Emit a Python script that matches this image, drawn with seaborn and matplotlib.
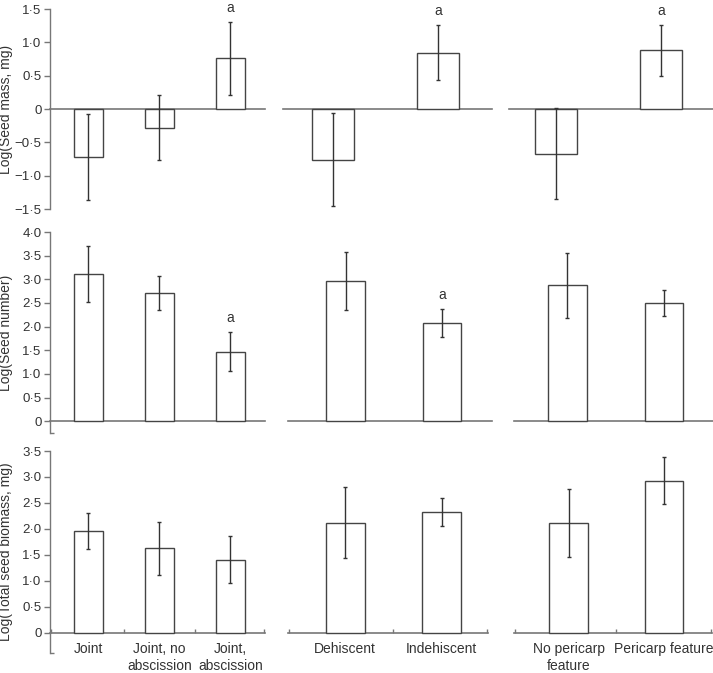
import numpy as np
import pandas as pd
import matplotlib
matplotlib.use("Agg")
import matplotlib.pyplot as plt
import seaborn as sns
from matplotlib.ticker import FuncFormatter, FixedLocator

# ---- data ----
groups = ["joint", "dehiscence", "pericarp"]
group_cats = [
    ["Joint", "Joint, no\nabscission", "Joint,\nabscission"],
    ["Dehiscent", "Indehiscent"],
    ["No pericarp\nfeature", "Pericarp feature"],
]

mass_mean = [-0.72, -0.28, 0.76, -0.76, 0.845, -0.67, 0.88]
mass_err = [0.65, 0.49, 0.545, 0.70, 0.41, 0.685, 0.385]
mass_sig = ["", "", "a", "", "a", "", "a"]

number_mean = [3.12, 2.71, 1.47, 2.97, 2.08, 2.87, 2.50]
number_err = [0.59, 0.35, 0.41, 0.615, 0.295, 0.69, 0.275]
number_sig = ["", "", "a", "", "a", "", ""]

biomass_mean = [1.96, 1.63, 1.41, 2.12, 2.32, 2.11, 2.93]
biomass_err = [0.35, 0.51, 0.46, 0.69, 0.27, 0.66, 0.455]
biomass_sig = ["", "", "", "", "", "", ""]

row_labels = ["Log(Seed mass, mg)", "Log(Seed number)", "Log(Total seed biomass, mg)"]
row_ylims = [(-1.5, 1.5), (-0.25, 4.0), (-0.39, 3.5)]
row_yticks = [np.arange(-1.5, 1.51, 0.5), np.arange(0, 4.01, 0.5), np.arange(0, 3.51, 0.5)]

# ---- build a long table ----
rows = []
for metric, means, errs, sigs in [("mass", mass_mean, mass_err, mass_sig),
                                  ("number", number_mean, number_err, number_sig),
                                  ("biomass", biomass_mean, biomass_err, biomass_sig)]:
    i = 0
    for g, cats in zip(groups, group_cats):
        for c in cats:
            rows.append(dict(metric=metric, group=g, cat=c, mean=means[i], err=errs[i], sig=sigs[i]))
            i += 1
df = pd.DataFrame(rows)
metrics = ["mass", "number", "biomass"]

# ---- layout (pixels in a 713x673 figure) ----
W, H = 713, 673
row_px = [(9, 209), (232, 433), (451, 653)]
col_px = [
    [(50, 265, -0.542, 2.486), (283, 492, -0.476, 1.514), (509, 713, -0.448, 1.495)],
    [(50, 265, -0.542, 2.486), (288, 492, -0.60, 1.52), (514, 713, -0.554, 1.508)],
    [(50, 265, -0.542, 2.486), (288, 488, -0.594, 1.48), (514, 712, -0.571, 1.5)],
]

sns.set_style("white")
plt.rcParams["font.family"] = ["Liberation Sans", "DejaVu Sans"]
plt.rcParams["font.size"] = 10

AXC = "#777777"
TXT = "#333333"


def fmt(v, pos):
    if abs(v) < 1e-9:
        return "0"
    s = f"{abs(v):.1f}".replace(".", "\u00b7")
    return ("\u2212" + s) if v < 0 else s


fig = plt.figure(figsize=(W / 100, H / 100), dpi=100)

for r, metric in enumerate(metrics):
    ytop, ybot = row_px[r]
    for c, g in enumerate(groups):
        x0, x1, xl0, xl1 = col_px[r][c]
        ax = fig.add_axes([x0 / W, 1 - ybot / H, (x1 - x0) / W, (ybot - ytop) / H])
        sub = df[(df.metric == metric) & (df.group == g)].reset_index(drop=True)
        sns.barplot(data=sub, x="cat", y="mean", ax=ax, width=0.4, color="white",
                    edgecolor="#444444", linewidth=1.0, errorbar=None, zorder=2)
        for b in ax.patches:
            b.set_facecolor("white")
        xs = np.arange(len(sub))
        ax.errorbar(xs, sub["mean"], yerr=sub["err"], fmt="none", ecolor="#333333",
                    elinewidth=1.0, capsize=1.2, capthick=1.0, zorder=3)
        for xi, m, e, s in zip(xs, sub["mean"], sub["err"], sub["sig"]):
            if s:
                ax.annotate(s, xy=(xi, m + e), xytext=(0, 5), textcoords="offset points",
                            ha="center", va="bottom", fontsize=10, color=TXT,
                            annotation_clip=False)

        ax.set_xlim(xl0, xl1)
        ax.set_ylim(*row_ylims[r])
        ax.set_xlabel("")
        ax.set_ylabel("")
        ax.patch.set_alpha(0)

        for sp in ["top", "right"]:
            ax.spines[sp].set_visible(False)
        ax.spines["bottom"].set_position(("data", 0))
        ax.spines["bottom"].set_color(AXC)
        ax.spines["bottom"].set_linewidth(1.2)
        ax.spines["bottom"].set_zorder(1)

        if c == 0:
            ax.spines["left"].set_color(AXC)
            ax.spines["left"].set_linewidth(1.0)
            ax.yaxis.set_major_locator(FixedLocator(row_yticks[r]))
            ax.yaxis.set_major_formatter(FuncFormatter(fmt))
            ax.tick_params(axis="y", which="major", left=True, direction="out", length=4,
                           width=1.0, color=AXC, labelcolor=TXT, labelsize=9.5, pad=2)
            if r > 0:
                ax.yaxis.set_minor_locator(FixedLocator([row_ylims[r][0]]))
                ax.tick_params(axis="y", which="minor", left=True, direction="in",
                               length=3, width=1.0, color=AXC)
            ax.set_ylabel(row_labels[r], color=TXT, fontsize=10)
            ax.yaxis.set_label_coords(-37 / (x1 - x0), 0.5)
        else:
            ax.spines["left"].set_visible(False)
            ax.set_yticks([])

        if r == 2:
            n = len(sub)
            ax.set_xticks(xs)
            ax.set_xticklabels(sub["cat"], color=TXT, fontsize=10, linespacing=1.2)
            ax.tick_params(axis="x", which="major", length=0, pad=7)
            bounds = [xl0 + 0.01] + [k + 0.5 for k in range(n - 1)] + [xl1 - 0.01]
            ax.xaxis.set_minor_locator(FixedLocator(bounds))
            ax.tick_params(axis="x", which="minor", bottom=True, direction="in",
                           length=3, width=1.0, color=AXC)
        else:
            ax.set_xticks([])

fig.savefig("out.png", dpi=100)
